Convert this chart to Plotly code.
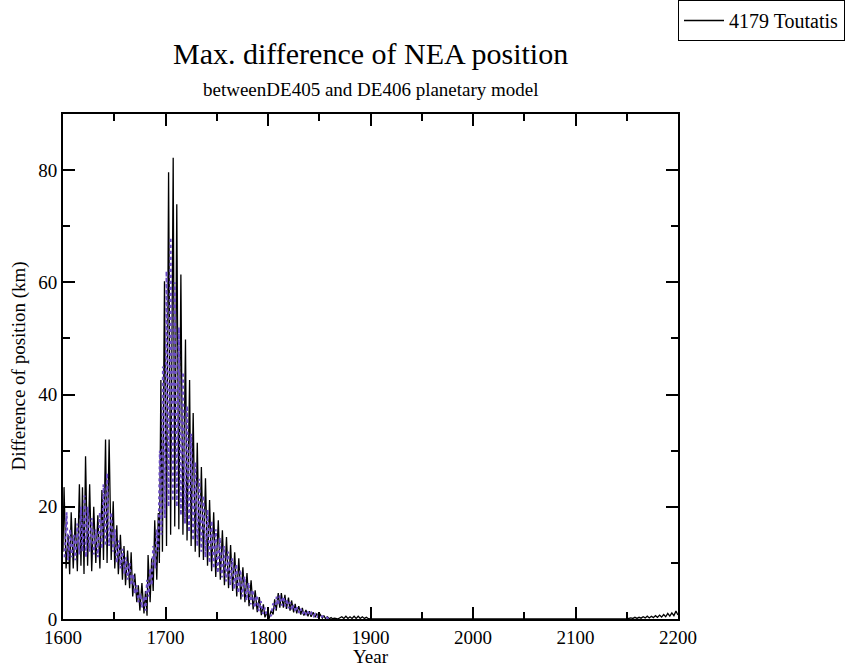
import plotly.graph_objects as go

# ---- data ----
black_peak_years = [1601, 1605, 1608, 1612, 1616, 1619, 1622, 1626, 1630, 1634, 1638, 1641.5, 1645, 1649,
                    1652.5, 1656, 1659.5, 1663, 1666.5, 1670, 1673.5, 1677, 1680.5, 1683, 1686.5, 1689.5,
                    1693, 1695.5, 1699, 1703, 1707.5, 1711, 1715, 1719.5, 1723.5, 1727, 1731, 1735, 1739,
                    1743, 1747, 1751.5, 1755.5, 1759.5, 1763.5, 1767.5, 1771.5, 1775.5, 1779.5, 1783.5,
                    1787.5, 1791.5, 1795.5, 1799, 1803, 1806.5, 1810, 1813, 1816.5, 1820, 1823, 1826.5,
                    1830, 1833.5, 1837, 1840.5, 1844, 1847.5, 1851, 1854.5, 1858, 1861.5, 1865, 1872,
                    1876, 1880, 1884, 1888, 1892, 1896, 2154, 2158, 2162, 2166, 2170, 2174, 2178, 2182,
                    2186, 2190, 2194, 2198]
black_peak_km = [23.5, 15, 19, 18, 24, 23.5, 29, 24, 20, 18.5, 23, 32, 32, 21,
                 16.7, 15, 13, 12.2, 11.9, 8.1, 6, 6.4, 5, 11.4, 10.8, 17.6,
                 18.9, 42.6, 60.2, 79.6, 82.2, 73.9, 61.4, 49.8, 42.6, 36.7, 31.4, 27.1, 25.1,
                 21.2, 19.0, 17.6, 15.8, 14.6, 13.2, 11.9, 10.8, 9.2, 8.2, 6.9,
                 5.1, 3.9, 2.6, 1.2, 1.5, 3.5, 4.6, 4.6, 4.3, 3.8, 3.3, 2.7,
                 2.3, 2.0, 1.6, 1.4, 1.2, 1.0, 0.8, 0.6, 0.4, 0.25, 0.15, 0.4,
                 0.5, 0.4, 0.5, 0.5, 0.4, 0.3, 0.2, 0.3, 0.3, 0.4, 0.5, 0.5, 0.6, 0.7,
                 0.8, 1.0, 1.1, 1.4]
black_trough_years = [1600, 1603, 1606.5, 1610, 1614, 1617.5, 1620.5, 1624, 1628, 1632, 1636, 1639.5,
                      1643, 1647, 1650.5, 1654, 1658, 1661, 1665, 1668, 1672, 1675, 1679, 1682, 1685,
                      1688, 1691.5, 1694, 1697, 1701, 1705, 1709, 1713, 1717, 1721, 1725, 1729, 1733,
                      1737, 1741, 1745, 1749, 1753.5, 1757.5, 1761.5, 1765.5, 1769.5, 1773.5, 1777.5,
                      1781.5, 1785.5, 1789.5, 1793.5, 1797, 1801, 1805, 1808, 1811.5, 1815, 1818,
                      1821.5, 1825, 1828, 1832, 1835, 1839, 1842, 1846, 1849, 1853, 1856, 1860, 1863,
                      1868, 1874, 1878, 1882, 1886, 1890, 1894, 1898, 1900, 2150, 2152, 2156, 2160,
                      2164, 2168, 2172, 2176, 2180, 2184, 2188, 2192, 2196, 2200]
black_trough_km = [12, 9, 8, 9, 8.5, 9.5, 8, 9.5, 8.5, 10, 9, 10.5,
                   10, 10.5, 9, 8, 7, 6, 5.5, 4, 3, 1.5, 1, 0.6, 3,
                   5, 7, 10, 12, 13, 15, 16.5, 16, 15, 14, 13, 12, 11,
                   10.5, 9.5, 8.5, 7.5, 7, 6, 5.5, 5, 4, 3.5, 3,
                   2.3, 1.7, 1.2, 0.7, 0.3, 0.05, 0.8, 1.5, 2.0, 2.0, 1.8,
                   1.5, 1.2, 1.0, 0.8, 0.6, 0.5, 0.4, 0.3, 0.2, 0.15, 0.1, 0.05, 0.05,
                   0, 0.1, 0.1, 0.1, 0.1, 0.1, 0.1, 0.05, 0, 0, 0.05, 0.1, 0.1,
                   0.15, 0.2, 0.2, 0.25, 0.3, 0.35, 0.4, 0.5, 0.6, 0.7]

purple_peak_years = [1603.5, 1607, 1610.5, 1614, 1617.5, 1621, 1624, 1628, 1632, 1636, 1639.5, 1643,
                     1647, 1650.5, 1654.5, 1658, 1661.5, 1665, 1668.5, 1672, 1675.5, 1679, 1682, 1685,
                     1688, 1691.5, 1694.5, 1697.5, 1701, 1705, 1709, 1713, 1717, 1721, 1725, 1729,
                     1733, 1737, 1741, 1745, 1749, 1753, 1757, 1761, 1765, 1769, 1773, 1777, 1781,
                     1785, 1789, 1793, 1797, 1801, 1805, 1808.5, 1811.5, 1815, 1818.5, 1821.5, 1825,
                     1828.5, 1832, 1835.5, 1839, 1842.5, 1846, 1849.5, 1853, 1856.5, 1860]
purple_peak_km = [19, 16, 15, 17, 20, 22, 20, 18, 16, 19, 24, 26,
                  19, 16, 14, 12.5, 11, 10, 8, 6, 4.5, 4, 7, 9,
                  13, 16, 30, 45, 62, 68, 60, 52, 44, 38, 33, 28,
                  25, 22, 19.5, 17.5, 16, 14.5, 13, 12, 10.8, 9.8, 8.8, 7.6, 6.5,
                  5.2, 4.2, 3.2, 2, 1, 2.8, 4, 4.2, 4, 3.5, 3, 2.5,
                  2.1, 1.8, 1.5, 1.3, 1.1, 0.9, 0.7, 0.5, 0.35, 0.2]
purple_trough_years = [1601.5, 1605, 1608.5, 1612, 1616, 1619, 1622.5, 1626, 1630, 1634, 1638, 1641.5,
                       1645, 1649, 1652.5, 1656, 1660, 1663, 1666.5, 1670, 1673.5, 1677, 1680.5, 1683.5,
                       1686.5, 1690, 1693, 1696, 1699.5, 1703, 1707, 1711, 1715, 1719, 1723, 1727,
                       1731, 1735, 1739, 1743, 1747, 1751, 1755, 1759, 1763, 1767, 1771, 1775, 1779,
                       1783, 1787, 1791, 1795, 1799, 1803, 1807, 1810, 1813.5, 1817, 1820, 1823.5,
                       1827, 1830.5, 1834, 1837.5, 1841, 1844.5, 1848, 1851.5, 1855, 1858.5, 1862]
purple_trough_km = [11, 10.5, 11, 10.5, 11.5, 12, 11, 12, 11.5, 11, 12.5, 13,
                    13, 12, 10, 9, 8, 7, 6, 4.5, 3, 2, 1.5, 4,
                    6, 9, 12, 15, 18, 20, 21, 20, 18.5, 17, 15.5, 14,
                    13, 12, 11, 10, 9, 8.2, 7.4, 6.7, 6, 5.3, 4.6, 4, 3.3,
                    2.6, 2, 1.4, 0.9, 0.4, 0.5, 1.8, 2.5, 2.4, 2.2, 1.9, 1.6,
                    1.3, 1.1, 0.9, 0.7, 0.6, 0.5, 0.4, 0.3, 0.2, 0.15, 0.1]

x_tick_values = [1600, 1700, 1800, 1900, 2000, 2100, 2200]
y_tick_values = [0, 20, 40, 60, 80]

title_text = "Max. difference of NEA position"
subtitle_text = "betweenDE405 and DE406 planetary model"
x_title = "Year"
y_title = "Difference of position (km)"
series_name = "4179 Toutatis"


def merge(py, pv, ty, tv):
    pts = sorted(list(zip(py, pv)) + list(zip(ty, tv)))
    return [p[0] for p in pts], [p[1] for p in pts]


bx, by = merge(black_peak_years, black_peak_km, black_trough_years, black_trough_km)
px, pyv = merge(purple_peak_years, purple_peak_km, purple_trough_years, purple_trough_km)

FONT = "Liberation Serif, Times New Roman, serif"

fig = go.Figure()
fig.add_trace(go.Scatter(x=bx, y=by, mode="lines", name=series_name,
                         line=dict(color="black", width=1.3)))
fig.add_trace(go.Scatter(x=px, y=pyv, mode="lines", showlegend=False,
                         line=dict(color="#6a4cc4", width=2, dash="dot")))

axis_common = dict(showgrid=False, zeroline=False, showline=True, linecolor="black",
                   linewidth=2, mirror="ticks", ticks="inside", ticklen=12, tickwidth=1.5,
                   tickcolor="black", tickfont=dict(family=FONT, size=19, color="black"))

fig.update_xaxes(range=[1600, 2200], tickvals=x_tick_values,
                 minor=dict(dtick=50, ticklen=7, tickwidth=1.5, ticks="inside", tickcolor="black"),
                 **axis_common)
fig.update_yaxes(range=[0, 90], tickvals=y_tick_values,
                 minor=dict(dtick=10, ticklen=7, tickwidth=1.5, ticks="inside", tickcolor="black"),
                 **axis_common)

fig.update_layout(
    width=848, height=667,
    margin=dict(l=63, r=170, t=114, b=48, pad=0, autoexpand=False),
    paper_bgcolor="white", plot_bgcolor="white",
    font=dict(family=FONT, color="black"),
    showlegend=True,
    legend=dict(x=1.0, y=1.2257, xanchor="left", yanchor="top", bgcolor="white",
                bordercolor="black", borderwidth=1, itemwidth=40,
                font=dict(family=FONT, size=20, color="black")),
    annotations=[
        dict(text=title_text, x=0.5, y=1, xref="paper", yref="paper", xanchor="center",
             yanchor="middle", yshift=61, showarrow=False, font=dict(family=FONT, size=30)),
        dict(text=subtitle_text, x=0.5, y=1, xref="paper", yref="paper", xanchor="center",
             yanchor="middle", yshift=25, showarrow=False, font=dict(family=FONT, size=19)),
        dict(text=x_title, x=0.5, y=0, xref="paper", yref="paper", xanchor="center",
             yanchor="middle", yshift=-37, showarrow=False, font=dict(family=FONT, size=19)),
        dict(text=y_title, x=0, y=0.5, xref="paper", yref="paper", xanchor="center",
             yanchor="middle", xshift=-45, textangle=-90, showarrow=False,
             font=dict(family=FONT, size=19)),
    ],
)

fig.write_html("out.html")
